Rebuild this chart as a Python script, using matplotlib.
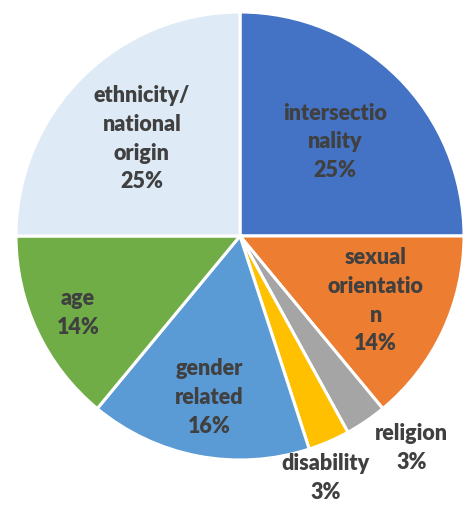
import numpy as np
import matplotlib.pyplot as plt

# Share of cases by type of discrimination
labels = ['intersectio\nnality', 'sexual\norientatio\nn', 'religion', 'disability',
          'gender\nrelated', 'age', 'ethnicity/\nnational\norigin']
shares = [25, 14, 3, 3, 16, 14, 25]
colors = ['#4472C4', '#ED7D31', '#A5A5A5', '#FFC000', '#5B9BD5', '#70AD47', '#DEEBF7']

# radial position of each label (fraction of radius), plus a nudge for outside ones
label_r = [0.60, 0.67, 1.20, 1.19, 0.73, 0.80, 0.62]
label_dx = [0, 0, 0.09, -0.09, 0, 0, 0]
label_dy = [0, 0, 0.05, 0.015, 0, 0, 0]

plt.rcParams['font.family'] = ['Lato', 'DejaVu Sans']

fig = plt.figure(figsize=(4.67, 5.06), dpi=100)
cx, cy, r = 240, 237, 224
ax = fig.add_axes([(cx - r) / 467, (506 - cy - r) / 506, 2 * r / 467, 2 * r / 506])

wedges, _ = ax.pie(shares, colors=colors, startangle=90, counterclock=False,
                   wedgeprops=dict(edgecolor='white', linewidth=2.2))

total = sum(shares)
start = 0.0
for lab, val, rr, dx, dy in zip(labels, shares, label_r, label_dx, label_dy):
    mid = np.deg2rad((start + val / 2) / total * 360)
    start += val
    x = rr * np.sin(mid) + dx
    y = rr * np.cos(mid) + dy
    ax.text(x, y, f'{lab}\n{val}%', ha='center', va='center', fontsize=15.5,
            fontweight='heavy', color='#404040', linespacing=1.45)

ax.set_xlim(-1, 1)
ax.set_ylim(-1, 1)
ax.set_aspect('auto')
ax.axis('off')

fig.savefig('out.png', dpi=100)
